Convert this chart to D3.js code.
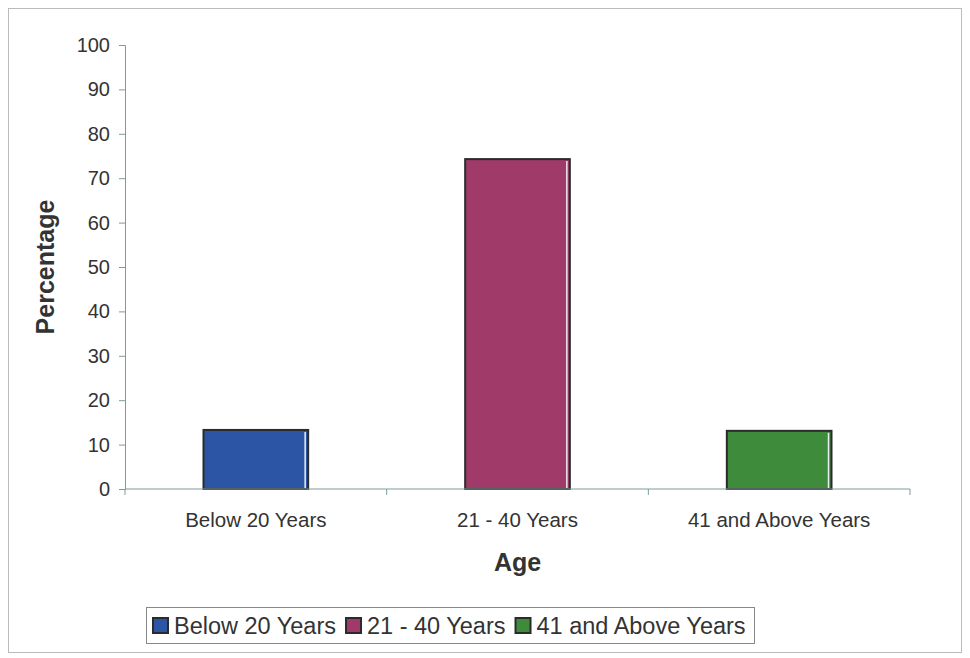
<!DOCTYPE html>
<html>
<head>
<meta charset="utf-8">
<script src="https://cdnjs.cloudflare.com/ajax/libs/d3/7.8.5/d3.min.js"></script>
<style>
  body { margin: 0; background: #fff; }
  svg { display: block; font-family: "Liberation Sans", Arial, sans-serif; }
</style>
</head>
<body>
<div id="chart"></div>
<script>
// data
const categories = ["Below 20 Years", "21 - 40 Years", "41 and Above Years"];
const values = [13.3, 74.3, 13.1];
const colors = ["#2c55a6", "#a03a68", "#3f8b3c"];
const yTicks = [0, 10, 20, 30, 40, 50, 60, 70, 80, 90, 100];

const W = 970, H = 658;
const margin = {top: 45, right: 60, bottom: 169, left: 125};
const width = W - margin.left - margin.right;
const height = H - margin.top - margin.bottom;

const axisCol = "#7f9a9c";
const textCol = "#333";

const svg = d3.select("#chart").append("svg")
    .attr("width", W)
    .attr("height", H);

// outer frame
svg.append("rect")
    .attr("x", 8.5).attr("y", 8.5)
    .attr("width", W - 17).attr("height", H - 14)
    .attr("fill", "none")
    .attr("stroke", "#bbb")
    .attr("stroke-width", 1);

const chart = svg.append("g")
    .attr("transform", "translate(" + margin.left + "," + margin.top + ")");

const x = d3.scaleBand()
    .domain(categories)
    .range([0, width])
    .padding(0);

const y = d3.scaleLinear()
    .domain([0, 100])
    .range([height, 0]);

const barW = x.bandwidth() * 0.4;

// bars
chart.selectAll("rect.bar")
    .data(values)
    .enter().append("rect")
    .attr("class", "bar")
    .attr("x", (d, i) => x(categories[i]) + (x.bandwidth() - barW) / 2)
    .attr("y", d => y(d))
    .attr("width", barW)
    .attr("height", d => y(0) - y(d))
    .attr("fill", (d, i) => colors[i])
    .attr("stroke", "#2b2b2b")
    .attr("stroke-width", 2);

// light edge on right side of bars
chart.selectAll("line.edge")
    .data(values)
    .enter().append("line")
    .attr("x1", (d, i) => x(categories[i]) + (x.bandwidth() + barW) / 2 - 3)
    .attr("x2", (d, i) => x(categories[i]) + (x.bandwidth() + barW) / 2 - 3)
    .attr("y1", d => y(d) + 2)
    .attr("y2", y(0) - 1)
    .attr("stroke", "#e8eef0")
    .attr("stroke-width", 1.5);

// y axis
const yAxis = chart.append("g")
    .call(d3.axisLeft(y).tickValues(yTicks).tickSize(6).tickPadding(9));
yAxis.attr("font-size", 20).attr("font-family", null);
yAxis.select(".domain").attr("stroke", axisCol);
yAxis.selectAll(".tick line").attr("stroke", axisCol);
yAxis.selectAll(".tick text")
    .attr("fill", textCol);

// x axis: line with ticks at category boundaries
const xAxisG = chart.append("g")
    .attr("transform", "translate(0," + height + ")");
xAxisG.append("line")
    .attr("x1", 0).attr("x2", width)
    .attr("y1", 0).attr("y2", 0)
    .attr("stroke", axisCol);
const bounds = categories.map(c => x(c)).concat([width]);
xAxisG.selectAll("line.sep")
    .data(bounds)
    .enter().append("line")
    .attr("x1", d => d).attr("x2", d => d)
    .attr("y1", 0).attr("y2", 6)
    .attr("stroke", axisCol);
xAxisG.selectAll("text")
    .data(categories)
    .enter().append("text")
    .attr("x", d => x(d) + x.bandwidth() / 2)
    .attr("y", 38)
    .attr("text-anchor", "middle")
    .attr("fill", textCol)
    .attr("font-size", 20.5)
    .text(d => d);

// axis titles
chart.append("text")
    .attr("transform", "rotate(-90)")
    .attr("x", -(267 - margin.top))
    .attr("y", -71)
    .attr("text-anchor", "middle")
    .attr("fill", textCol)
    .attr("font-size", 25)
    .attr("font-weight", "bold")
    .text("Percentage");

chart.append("text")
    .attr("x", width / 2)
    .attr("y", height + 82)
    .attr("text-anchor", "middle")
    .attr("fill", textCol)
    .attr("font-size", 25)
    .attr("font-weight", "bold")
    .text("Age");

// legend
const legend = svg.append("g")
    .attr("transform", "translate(146,607)");
legend.append("rect")
    .attr("x", 0.5).attr("y", 0.5)
    .attr("width", 608).attr("height", 36)
    .attr("fill", "#fff")
    .attr("stroke", "#888");

const items = legend.selectAll("g.item")
    .data(categories)
    .enter().append("g")
    .attr("class", "item");

let cx = 7;
items.each(function(d, i) {
    const g = d3.select(this).attr("transform", "translate(" + cx + ",0)");
    g.append("rect")
        .attr("x", 0).attr("y", 11)
        .attr("width", 15).attr("height", 15)
        .attr("fill", colors[i])
        .attr("stroke", "#2b2b2b")
        .attr("stroke-width", 2);
    const t = g.append("text")
        .attr("x", 21).attr("y", 26.5)
        .attr("fill", textCol)
        .attr("font-size", 23.5)
        .text(d);
    cx += 21 + t.node().getComputedTextLength() + 10;
});
</script>
</body>
</html>
